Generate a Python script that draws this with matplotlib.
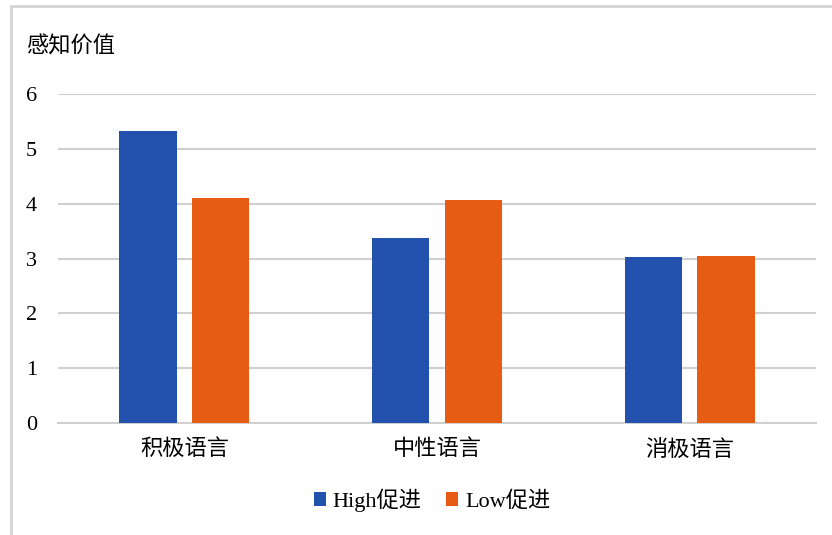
import matplotlib
matplotlib.use("Agg")
import matplotlib.pyplot as plt
import numpy as np
from matplotlib.patches import Rectangle

plt.rcParams['font.family'] = ['Liberation Serif', 'Noto Sans CJK SC', 'DejaVu Sans']

categories = ['积极语言', '中性语言', '消极语言']
series_names = ['High促进', 'Low促进']
high_values = [5.32, 3.38, 3.02]
low_values = [4.11, 4.07, 3.05]
y_ticks = [0, 1, 2, 3, 4, 5, 6]
y_title = '感知价值'

blue = '#2251ae'
orange = '#e65c14'
grid_gray = '#d0d0d0'

fig = plt.figure(figsize=(8.32, 5.35), dpi=100)
ax = fig.add_axes([58 / 832, 1 - 423 / 535, (816 - 58) / 832, (423 - 94) / 535])

x = np.arange(len(categories))
width = 0.226
offset = 0.144
ax.bar(x - offset, high_values, width, color=blue, label=series_names[0], zorder=3)
ax.bar(x + offset, low_values, width, color=orange, label=series_names[1], zorder=3)

ax.set_xlim(-0.5, len(categories) - 0.5)
ax.set_ylim(0, 6)
ax.set_yticks(y_ticks)
ax.set_yticklabels([str(t) for t in y_ticks], fontsize=16)
ax.set_xticks(x)
ax.set_xticklabels(categories, fontsize=16)
ax.tick_params(axis='y', length=0, pad=15)
ax.tick_params(axis='x', length=0, pad=12)
ax.grid(axis='y', color=grid_gray, linewidth=1.5, zorder=0)
for s in ['top', 'right', 'left']:
    ax.spines[s].set_visible(False)
ax.spines['bottom'].set_color(grid_gray)
ax.spines['bottom'].set_linewidth(1.5)

fig.text(26 / 832, 1 - 47 / 535, y_title, fontsize=16, ha='left', va='center')

leg = fig.legend(loc='center', bbox_to_anchor=(432 / 832, 1 - 500 / 535), ncol=2,
                 frameon=False, fontsize=16, handlelength=0.55, handleheight=0.55,
                 handletextpad=0.3, columnspacing=1.1)

# outer chart frame
fig.patches.append(Rectangle((11 / 832, -0.01), 1.0, 1 - 6 / 535 + 0.01,
                             transform=fig.transFigure, fill=False,
                             edgecolor='#d4d4d4', linewidth=2))

fig.savefig('out.png', dpi=100, facecolor='white')
